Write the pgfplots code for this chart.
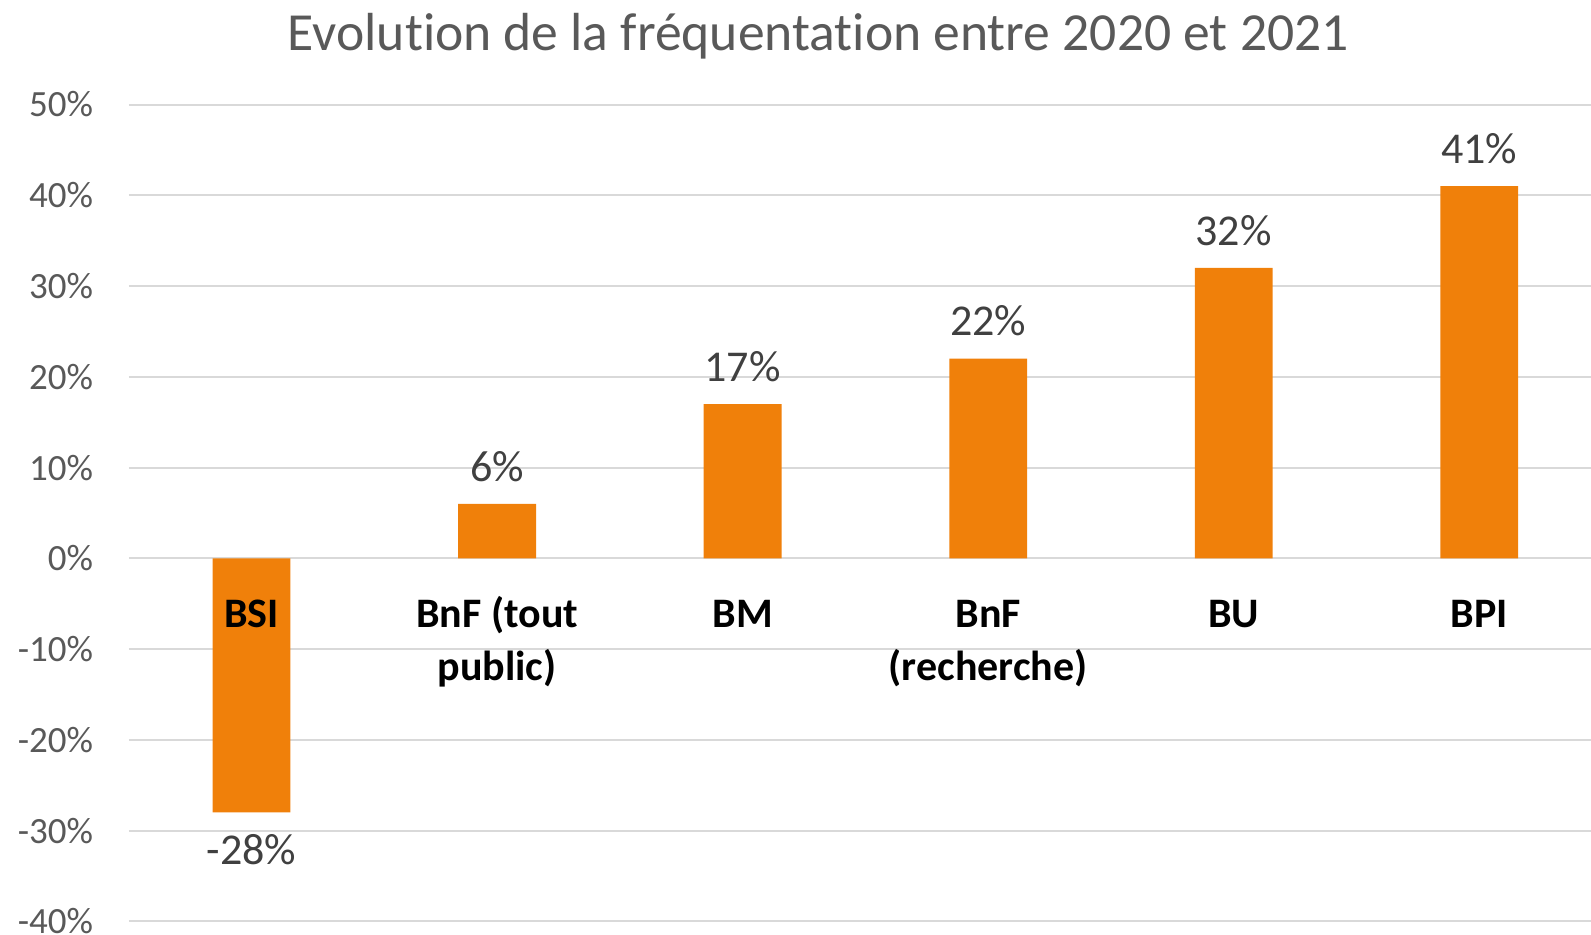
\documentclass[border=0pt]{standalone}
\usepackage{fontspec}
\setmainfont{Carlito}[Ligatures=NoCommon]
\usepackage{pgfplots}
\pgfplotsset{compat=1.18}
\definecolor{barorange}{RGB}{240,128,10}
\definecolor{gridgray}{RGB}{217,217,217}
\definecolor{tickgray}{RGB}{89,89,89}
\definecolor{labelgray}{RGB}{64,64,64}
\tikzset{catlabel/.style={anchor=base, yshift=-34.6pt, align=center, inner sep=0pt,
    font=\fontsize{21}{26.4}\selectfont\bfseries, text=black}}
\begin{document}
\begin{tikzpicture}
\begin{axis}[
  scale only axis, width=736.6pt, height=408.4pt,
  at={(64.4pt,6.35pt)}, anchor=south west,
  ybar, bar width=0.317,
  xmin=-0.5, xmax=5.5, ymin=-40, ymax=50,
  xtick=\empty,
  ytick={-40,-30,...,50},
  yticklabel={\pgfmathprintnumber{\tick}\%},
  yticklabel style={font=\fontsize{18.5}{22}\selectfont, text=tickgray, xshift=-14.3pt},
  /pgf/number format/assume math mode=true,
  ymajorgrids, grid style={gridgray, line width=1pt},
  axis line style={draw=none}, major tick length=0pt,
  title={Evolution de la fréquentation entre 2020 et 2021},
  title style={at={(axis description cs:0.468,1.052)}, anchor=base,
    font=\fontsize{26.8}{32}\selectfont, text=tickgray},
  nodes near coords={\pgfmathprintnumber{\pgfplotspointmeta}\%},
  every node near coord/.append style={font=\fontsize{22}{26}\selectfont,
    text=labelgray, inner sep=11pt},
]
\addplot[fill=barorange, draw=none] coordinates {(0,-28) (1,6) (2,17) (3,22) (4,32) (5,41)};
% category names sit just under the zero line, over the bars
% (base is the last line, so two-line names go one line lower)
\node[catlabel] at (axis cs:0,0) {BSI};
\node[catlabel, yshift=-26.4pt] at (axis cs:1,0) {BnF (tout\\public)};
\node[catlabel] at (axis cs:2,0) {BM};
\node[catlabel, yshift=-26.4pt] at (axis cs:3,0) {BnF\\(recherche)};
\node[catlabel] at (axis cs:4,0) {BU};
\node[catlabel] at (axis cs:5,0) {BPI};
\end{axis}
\pgfresetboundingbox
\path (0,0) rectangle (795.5pt,467pt);
\end{tikzpicture}
\end{document}
